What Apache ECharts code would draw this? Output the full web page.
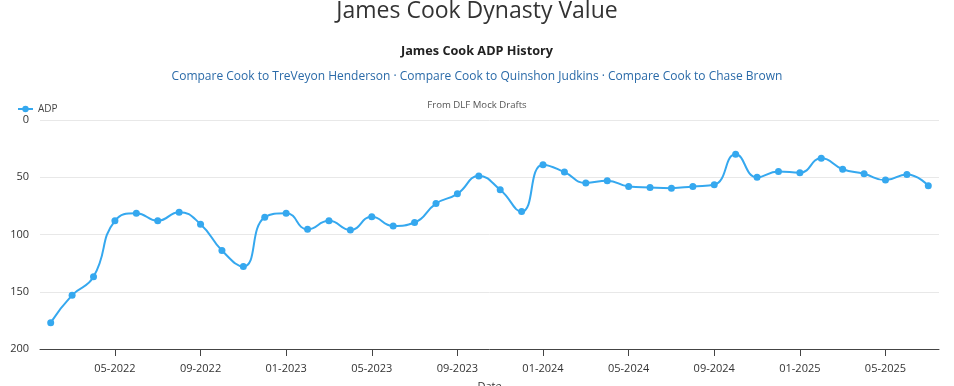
<!DOCTYPE html>
<html>
<head>
<meta charset="utf-8">
<script src="https://cdn.jsdelivr.net/npm/echarts@6/dist/echarts.min.js"></script>
<style>
html,body{margin:0;padding:0;background:#fff;}
#chart{width:954px;height:386px;}
</style>
</head>
<body>
<div id="chart"></div>
<script>
var months = [
  '02-2022','03-2022','04-2022','05-2022','06-2022','07-2022','08-2022','09-2022','10-2022','11-2022','12-2022',
  '01-2023','02-2023','03-2023','04-2023','05-2023','06-2023','07-2023','08-2023','09-2023','10-2023','11-2023','12-2023',
  '01-2024','02-2024','03-2024','04-2024','05-2024','06-2024','07-2024','08-2024','09-2024','10-2024','11-2024','12-2024',
  '01-2025','02-2025','03-2025','04-2025','05-2025','06-2025','07-2025'
];
var adp = [
  177, 153, 137, 88, 81.5, 88, 80.5, 91, 114, 128, 85,
  81.5, 95.5, 88, 96, 84.5, 92.5, 89.5, 73, 64.5, 49, 61, 80,
  39, 45.5, 55, 53, 58, 59, 59.5, 58, 56.5, 30, 50, 45,
  46, 33.5, 43, 47, 52.5, 47.5, 57.5
];
var yTicks = [0, 50, 100, 150, 200];
var labeledMonths = ['01', '05', '09'];

var FONT = '"Open Sans", "Noto Sans", sans-serif';
function showMonth(index, value) {
  return labeledMonths.indexOf(months[index].slice(0, 2)) >= 0;
}

var chart = echarts.init(document.getElementById('chart'), null, {renderer: 'canvas'});
chart.setOption({
  animation: false,
  backgroundColor: '#fff',
  title: [
    {text: 'James Cook Dynasty Value', left: 'center', top: -5,
     textStyle: {fontFamily: FONT, fontSize: 23, fontWeight: 'normal', color: '#333'}},
    {text: 'James Cook ADP History', left: 'center', top: 40,
     textStyle: {fontFamily: FONT, fontSize: 12.7, fontWeight: 'bold', color: '#222'}},
    {text: 'Compare Cook to TreVeyon Henderson \u00b7 Compare Cook to Quinshon Judkins \u00b7 Compare Cook to Chase Brown',
     left: 'center', top: 66,
     textStyle: {fontFamily: FONT, fontSize: 12, fontWeight: 'normal', color: '#2a6aa8'}},
    {text: 'From DLF Mock Drafts', left: 'center', top: 95,
     textStyle: {fontFamily: FONT, fontSize: 9.6, fontWeight: 'normal', color: '#555'}}
  ],
  legend: {
    left: 12, top: 99, itemWidth: 15, itemHeight: 8, itemGap: 4,
    textStyle: {fontFamily: FONT, fontSize: 10, color: '#444'},
    data: ['ADP']
  },
  grid: {left: 40, right: 15, top: 120, bottom: 37, containLabel: false, outerBoundsMode: 'none'},
  xAxis: {
    type: 'category',
    position: 'bottom',
    z: 5,
    data: months,
    boundaryGap: true,
    name: 'Date',
    nameLocation: 'middle',
    nameGap: 32,
    nameTextStyle: {fontFamily: FONT, fontSize: 11, color: '#333'},
    axisLine: {show: true, onZero: false, lineStyle: {color: '#444', width: 1}},
    axisTick: {show: true, alignWithLabel: true, interval: showMonth, length: 7, lineStyle: {color: '#444'}},
    axisLabel: {interval: showMonth, fontFamily: FONT, fontSize: 11, color: '#333', margin: 14},
    splitLine: {show: false}
  },
  yAxis: {
    type: 'value',
    inverse: true,
    min: yTicks[0],
    max: yTicks[yTicks.length - 1],
    interval: 50,
    axisLine: {show: false},
    axisTick: {show: false},
    axisLabel: {fontFamily: FONT, fontSize: 11, color: '#333', margin: 11},
    splitLine: {lineStyle: {color: '#e8e8e8', width: 1}}
  },
  series: [{
    name: 'ADP',
    type: 'line',
    data: adp,
    smooth: 0.5,
    symbol: 'circle',
    symbolSize: 7,
    showSymbol: true,
    lineStyle: {color: '#35a8ef', width: 2},
    itemStyle: {color: '#35a8ef'}
  }]
});
</script>
</body>
</html>
